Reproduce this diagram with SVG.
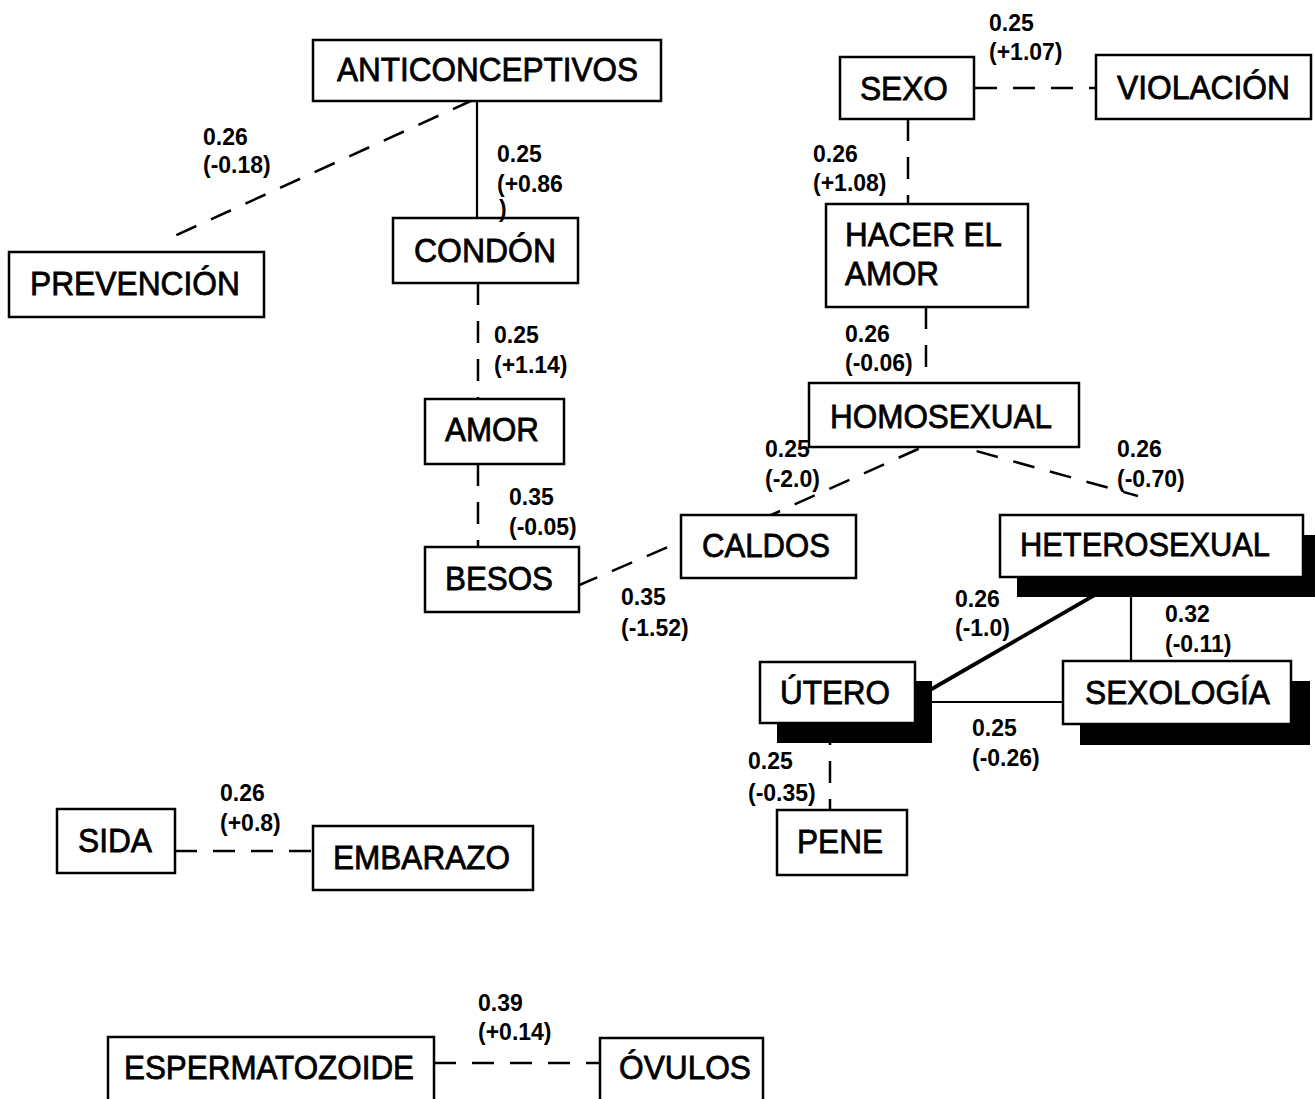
<svg xmlns="http://www.w3.org/2000/svg" width="1315" height="1099" viewBox="0 0 1315 1099">
<style>
.box{fill:#fff;stroke:#000;stroke-width:2.5}
.sh{fill:#000}
.lbl{font-family:"Liberation Sans",Arial,sans-serif;font-size:34px;fill:#000;stroke:#000;stroke-width:0.8}
.num{font-family:"Liberation Sans",Arial,sans-serif;font-size:23px;font-weight:bold;fill:#000}
.d{stroke:#000;stroke-width:2.5;fill:none;stroke-dasharray:22 16}
.s{stroke:#000;stroke-width:2.2;fill:none}
</style>
<rect width="1315" height="1099" fill="#fff"/>
<g id="connectors">
<line class="d" x1="473" y1="100" x2="170" y2="238"/>
<line class="s" x1="477" y1="100" x2="477" y2="220"/>
<line class="d" x1="478" y1="283" x2="478" y2="399"/>
<line class="d" x1="478" y1="464" x2="478" y2="547"/>
<line class="d" x1="577" y1="586" x2="682" y2="541"/>
<line class="d" x1="760" y1="520" x2="936" y2="441"/>
<line class="d" x1="940" y1="441" x2="1138" y2="496"/>
<line class="d" x1="975" y1="88" x2="1096" y2="88"/>
<line class="d" x1="908" y1="119" x2="908" y2="204"/>
<line class="d" x1="926" y1="307" x2="926" y2="383"/>
<line class="s" x1="1126" y1="577" x2="930" y2="690" style="stroke-width:3.8"/>
<line class="s" x1="1131" y1="577" x2="1131" y2="661"/>
<line class="s" x1="915" y1="702" x2="1063" y2="702"/>
<line class="d" x1="830" y1="723" x2="830" y2="810"/>
<line class="d" x1="175" y1="851" x2="313" y2="851"/>
<line class="d" x1="434" y1="1063" x2="600" y2="1063"/>
</g>
<g id="n-anticonceptivos"><rect class="box" x="313" y="40" width="348" height="61"/><text class="lbl" x="337" y="81" textLength="301" lengthAdjust="spacingAndGlyphs">ANTICONCEPTIVOS</text></g>
<g id="n-prevencion"><rect class="box" x="9" y="252" width="255" height="65"/><text class="lbl" x="30" y="295" textLength="210" lengthAdjust="spacingAndGlyphs">PREVENCIÓN</text></g>
<g id="n-condon"><rect class="box" x="393" y="218" width="185" height="65"/><text class="lbl" x="414" y="262" textLength="142" lengthAdjust="spacingAndGlyphs">CONDÓN</text></g>
<g id="n-amor"><rect class="box" x="425" y="399" width="139" height="65"/><text class="lbl" x="445" y="441" textLength="94" lengthAdjust="spacingAndGlyphs">AMOR</text></g>
<g id="n-besos"><rect class="box" x="425" y="547" width="154" height="65"/><text class="lbl" x="445" y="590" textLength="108" lengthAdjust="spacingAndGlyphs">BESOS</text></g>
<g id="n-caldos"><rect class="box" x="681" y="515" width="175" height="63"/><text class="lbl" x="702" y="557" textLength="128" lengthAdjust="spacingAndGlyphs">CALDOS</text></g>
<g id="n-sexo"><rect class="box" x="840" y="57" width="134" height="62"/><text class="lbl" x="860" y="100" textLength="88" lengthAdjust="spacingAndGlyphs">SEXO</text></g>
<g id="n-violacion"><rect class="box" x="1096" y="55" width="215" height="64"/><text class="lbl" x="1117" y="99" textLength="173" lengthAdjust="spacingAndGlyphs">VIOLACIÓN</text></g>
<g id="n-hacer"><rect class="box" x="826" y="204" width="202" height="103"/><text class="lbl" x="845" y="246" textLength="157" lengthAdjust="spacingAndGlyphs">HACER EL</text><text class="lbl" x="845" y="285" textLength="94" lengthAdjust="spacingAndGlyphs">AMOR</text></g>
<g id="n-homosexual"><rect class="box" x="809" y="383" width="270" height="64"/><text class="lbl" x="830" y="428" textLength="222" lengthAdjust="spacingAndGlyphs">HOMOSEXUAL</text></g>
<g id="n-heterosexual"><rect class="sh" x="1017" y="535" width="303" height="62"/><rect class="box" x="1000" y="515" width="303" height="62"/><text class="lbl" x="1020" y="556" textLength="250" lengthAdjust="spacingAndGlyphs">HETEROSEXUAL</text></g>
<g id="n-utero"><rect class="sh" x="777" y="681" width="155" height="62"/><rect class="box" x="760" y="662" width="155" height="61"/><text class="lbl" x="780" y="704" textLength="110" lengthAdjust="spacingAndGlyphs">ÚTERO</text></g>
<g id="n-sexologia"><rect class="sh" x="1080" y="681" width="230" height="64"/><rect class="box" x="1063" y="661" width="228" height="63"/><text class="lbl" x="1085" y="704" textLength="185" lengthAdjust="spacingAndGlyphs">SEXOLOGÍA</text></g>
<g id="n-pene"><rect class="box" x="777" y="810" width="130" height="65"/><text class="lbl" x="797" y="853" textLength="86" lengthAdjust="spacingAndGlyphs">PENE</text></g>
<g id="n-sida"><rect class="box" x="57" y="809" width="118" height="64"/><text class="lbl" x="78" y="852" textLength="74" lengthAdjust="spacingAndGlyphs">SIDA</text></g>
<g id="n-embarazo"><rect class="box" x="313" y="826" width="220" height="64"/><text class="lbl" x="333" y="869" textLength="177" lengthAdjust="spacingAndGlyphs">EMBARAZO</text></g>
<g id="n-espermatozoide"><rect class="box" x="108" y="1037" width="326" height="80"/><text class="lbl" x="124" y="1079" textLength="290" lengthAdjust="spacingAndGlyphs">ESPERMATOZOIDE</text></g>
<g id="n-ovulos"><rect class="box" x="600" y="1038" width="163" height="80"/><text class="lbl" x="619" y="1079" textLength="132" lengthAdjust="spacingAndGlyphs">ÓVULOS</text></g>
<g id="edge-labels">
<text class="num" x="203" y="145">0.26</text><text class="num" x="203" y="173">(-0.18)</text>
<text class="num" x="497" y="162">0.25</text><text class="num" x="497" y="192">(+0.86</text><text class="num" x="499" y="217">)</text>
<text class="num" x="494" y="343">0.25</text><text class="num" x="494" y="373">(+1.14)</text>
<text class="num" x="509" y="505">0.35</text><text class="num" x="509" y="535">(-0.05)</text>
<text class="num" x="621" y="605">0.35</text><text class="num" x="621" y="636">(-1.52)</text>
<text class="num" x="765" y="457">0.25</text><text class="num" x="765" y="487">(-2.0)</text>
<text class="num" x="1117" y="457">0.26</text><text class="num" x="1117" y="487">(-0.70)</text>
<text class="num" x="813" y="162">0.26</text><text class="num" x="813" y="191">(+1.08)</text>
<text class="num" x="989" y="31">0.25</text><text class="num" x="989" y="60">(+1.07)</text>
<text class="num" x="845" y="342">0.26</text><text class="num" x="845" y="371">(-0.06)</text>
<text class="num" x="955" y="607">0.26</text><text class="num" x="955" y="636">(-1.0)</text>
<text class="num" x="1165" y="622">0.32</text><text class="num" x="1165" y="652">(-0.11)</text>
<text class="num" x="972" y="736">0.25</text><text class="num" x="972" y="766">(-0.26)</text>
<text class="num" x="748" y="769">0.25</text><text class="num" x="748" y="801">(-0.35)</text>
<text class="num" x="220" y="801">0.26</text><text class="num" x="220" y="831">(+0.8)</text>
<text class="num" x="478" y="1011">0.39</text><text class="num" x="478" y="1040">(+0.14)</text>
</g>
</svg>
